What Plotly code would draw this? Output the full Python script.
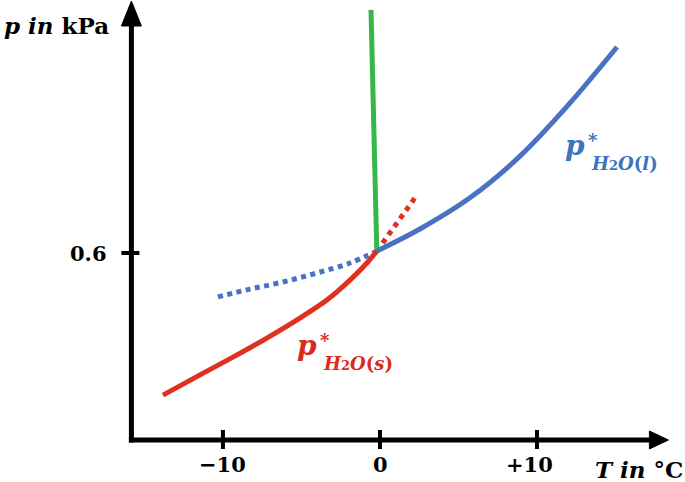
import plotly.graph_objects as go

# ---- data (T in °C, p in kPa, schematic values) ----
ice_T = [-13.82, -11.46, -9.36, -7.20, -5.10, -3.38, -1.91, -0.83, -0.2]
ice_p = [0.144, 0.209, 0.266, 0.327, 0.391, 0.449, 0.513, 0.568, 0.606]

liq_T = [-0.2, 2.55, 5.73, 8.92, 12.10, 15.10]
liq_p = [0.606, 0.677, 0.777, 0.911, 1.081, 1.261]

liq_sub_T = [-10.32, -8.28, -6.18, -4.01, -1.91, -0.2]   # supercooled liquid (dotted)
liq_sub_p = [0.459, 0.484, 0.507, 0.536, 0.568, 0.606]

ice_sup_T = [-0.2, 1.08, 2.36]                           # superheated ice (dotted)
ice_sup_p = [0.606, 0.694, 0.786]

melt_T = [-0.57, -0.2]                                    # melting curve
melt_p = [1.380, 0.606]

x_ticks = [-10, 0, 10]
x_tick_labels = ["\u221210", "0", "+10"]
y_ticks = [0.6]
y_tick_labels = ["0.6"]

# ---- styles ----
RED = "#E0301E"
RED_TXT = "#D92A1C"
BLUE = "#4A72C2"
BLUE_TXT = "#3A75BD"
GREEN = "#35B847"
FONT = "DejaVu Serif"

X_RANGE = [-24.20, 19.43]
Y_RANGE = [-0.1348, 1.4118]
AX_T = -15.83   # position of the vertical axis
AX_P = 0.0      # position of the horizontal axis

fig = go.Figure()
fig.add_trace(go.Scatter(x=liq_sub_T, y=liq_sub_p, mode="lines",
                         line=dict(color=BLUE, width=5, dash="5px,4.5px", shape="spline")))
fig.add_trace(go.Scatter(x=ice_sup_T, y=ice_sup_p, mode="lines",
                         line=dict(color=RED, width=5, dash="5px,5px")))
fig.add_trace(go.Scatter(x=melt_T, y=melt_p, mode="lines",
                         line=dict(color=GREEN, width=5)))
fig.add_trace(go.Scatter(x=ice_T, y=ice_p, mode="lines",
                         line=dict(color=RED, width=5, shape="spline", smoothing=0.8)))
fig.add_trace(go.Scatter(x=liq_T, y=liq_p, mode="lines",
                         line=dict(color=BLUE, width=5, shape="spline", smoothing=0.8)))

px_T = 1 / 15.7      # one pixel in T units
px_p = 1 / 311.67    # one pixel in p units

shapes = []
# axes lines
shapes.append(dict(type="line", xref="x", yref="y", x0=AX_T, x1=AX_T,
                   y0=AX_P - 2.5 * px_p, y1=AX_P + 420 * px_p,
                   line=dict(color="black", width=5)))
shapes.append(dict(type="line", xref="x", yref="y", x0=AX_T - 2.5 * px_T, x1=AX_T + 520 * px_T,
                   y0=AX_P, y1=AX_P, line=dict(color="black", width=5)))
# arrowheads
ytip = AX_P + 439 * px_p
ybase = AX_P + 414 * px_p
shapes.append(dict(type="path", xref="x", yref="y",
                   path=f"M {AX_T - 10 * px_T},{ybase} L {AX_T + 10 * px_T},{ybase} L {AX_T},{ytip} Z",
                   fillcolor="black", line=dict(color="black", width=1)))
xtip = AX_T + 537 * px_T
xbase = AX_T + 518 * px_T
shapes.append(dict(type="path", xref="x", yref="y",
                   path=f"M {xbase},{AX_P - 9 * px_p} L {xbase},{AX_P + 9 * px_p} L {xtip},{AX_P} Z",
                   fillcolor="black", line=dict(color="black", width=1)))
# ticks
for t in x_ticks:
    shapes.append(dict(type="line", xref="x", yref="y", x0=t, x1=t,
                       y0=AX_P - 9 * px_p, y1=AX_P + 10 * px_p,
                       line=dict(color="black", width=4)))
for v in y_ticks:
    shapes.append(dict(type="line", xref="x", yref="y", x0=AX_T - 10 * px_T, x1=AX_T + 8 * px_T,
                       y0=v, y1=v, line=dict(color="black", width=4)))

annotations = []
tick_xpos = {-10: -10.06, 0: 0.06, 10: 9.55}
for t, lab in zip(x_ticks, x_tick_labels):
    annotations.append(dict(x=tick_xpos[t], y=AX_P - 24.5 * px_p, xref="x", yref="y",
                            text=f"<b>{lab}</b>", showarrow=False,
                            font=dict(family=FONT, size=21, color="black"),
                            xanchor="center", yanchor="middle"))
for v, lab in zip(y_ticks, y_tick_labels):
    annotations.append(dict(x=AX_T - 22 * px_T, y=v - 0.5 * px_p, xref="x", yref="y",
                            text=f"<b>{lab}</b>", showarrow=False,
                            font=dict(family=FONT, size=21, color="black"),
                            xanchor="right", yanchor="middle"))
# axis titles
annotations.append(dict(x=-24.05, y=AX_P + 415 * px_p, xref="x", yref="y",
                        text="<b><i>p in</i> kPa</b>", showarrow=False,
                        font=dict(family=FONT, size=23, color="black"),
                        xanchor="left", yanchor="middle"))
annotations.append(dict(x=19.4, y=AX_P - 30 * px_p, xref="x", yref="y",
                        text="<b><i>T in</i> °C</b>", showarrow=False,
                        font=dict(family=FONT, size=23, color="black"),
                        xanchor="right", yanchor="middle"))


def to_data(px, py):
    return (px - 380) / 15.7, (440 - py) / 311.67


def curve_label(px, py, phase, color):
    """(px, py): pixel anchor of the label; parts placed so their boxes do not overlap."""
    parts = [
        (0, -4.7, "<b><i>p</i></b>", 28),
        (23, -9.5, "<b>*</b>", 18),
        (26, 13.5, f"<b><i>H</i><span style='font-size:13px'>2</span><i>O</i>(<i>{phase}</i>)</b>", 18),
    ]
    for dx, dy, txt, size in parts:
        T, p = to_data(px + dx, py + dy)
        annotations.append(dict(x=T, y=p, xref="x", yref="y", text=txt, showarrow=False,
                                font=dict(family=FONT, size=size, color=color),
                                xanchor="left", yanchor="middle"))


curve_label(295, 350, "s", RED_TXT)
curve_label(563, 150, "l", BLUE_TXT)

fig.update_layout(
    width=685, height=482,
    margin=dict(l=0, r=0, t=0, b=0),
    paper_bgcolor="white", plot_bgcolor="white",
    showlegend=False,
    hovermode=False,
    xaxis=dict(range=X_RANGE, visible=False, fixedrange=True),
    yaxis=dict(range=Y_RANGE, visible=False, fixedrange=True),
    shapes=shapes,
    annotations=annotations,
)

fig.write_html("out.html")
